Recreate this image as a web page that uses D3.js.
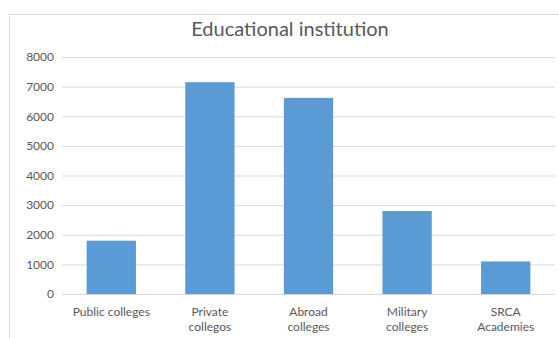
<!DOCTYPE html>
<html><head><meta charset="utf-8">
<script src="https://cdn.jsdelivr.net/npm/d3@7"></script>
<style>body{margin:0;background:#fff;} text{font-family:Lato, "Open Sans", sans-serif;}</style>
</head><body>
<svg id="c" width="559" height="338"></svg>
<script>
const categories = [["Public colleges"], ["Private", "collegos"], ["Abroad", "colleges"], ["Military", "colleges"], ["SRCA", "Academies"]];
const values = [1800, 7150, 6620, 2800, 1100];
const yTicks = [0, 1000, 2000, 3000, 4000, 5000, 6000, 7000, 8000];
const title = "Educational institution";

const svg = d3.select("#c");
svg.append("rect").attr("x", 9.5).attr("y", 14.5).attr("width", 560).attr("height", 340)
  .attr("fill", "#fff").attr("stroke", "#d9d9d9");

const x = d3.scaleBand().domain(d3.range(categories.length)).range([62, 555]).paddingInner(0.5).paddingOuter(0.25);
const y = d3.scaleLinear().domain([0, 8000]).range([294, 57]);

const yAxis = svg.append("g").attr("transform", "translate(62,0)")
  .call(d3.axisLeft(y).tickValues(yTicks).tickSize(-493).tickPadding(8).tickFormat(d3.format("d")));
yAxis.select(".domain").remove();
yAxis.selectAll("line").attr("stroke", "#d9d9d9");
yAxis.selectAll("text").attr("fill", "#595959").style("font-size", "12px");

svg.append("g").selectAll("rect").data(values).join("rect")
  .attr("x", (d, i) => x(i)).attr("width", x.bandwidth())
  .attr("y", d => y(d)).attr("height", d => y(0) - y(d))
  .attr("fill", "#5b9bd5");

const lab = svg.append("g").selectAll("text").data(categories).join("text")
  .attr("text-anchor", "middle").attr("fill", "#595959").style("font-size", "12px")
  .attr("transform", (d, i) => `translate(${x(i) + x.bandwidth() / 2},316)`);
lab.selectAll("tspan").data(d => d).join("tspan")
  .attr("x", 0).attr("dy", (d, j) => j ? 15 : 0).text(d => d);

svg.append("text").attr("x", 290).attr("y", 36).attr("text-anchor", "middle")
  .attr("fill", "#595959").style("font-size", "20px").text(title);
</script>
</body></html>
